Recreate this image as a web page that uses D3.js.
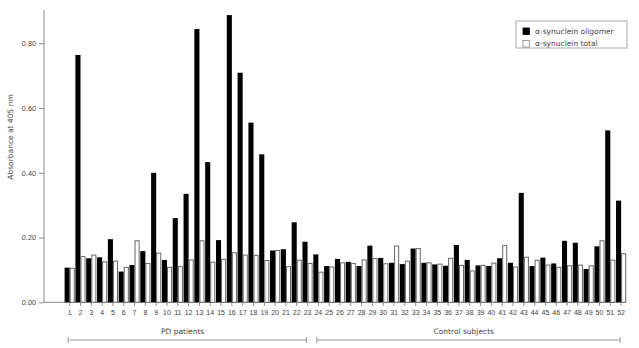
<!DOCTYPE html>
<html>
<head>
<meta charset="UTF-8">
<title></title>
<style>
  body{ margin:0; background:#fff; font-family:'DejaVu Sans', sans-serif; }
  text{ fill:#444; }
  .axis path, .axis line{ stroke:#888; }
</style>
</head>
<body>
<script src="https://cdnjs.cloudflare.com/ajax/libs/d3/7.8.5/d3.min.js"></script>
<script>
// params / data
var subjects = d3.range(1, 53);
var oligomer = [0.107,0.764,0.136,0.139,0.195,0.095,0.115,0.158,0.40,0.131,
                0.26,0.335,0.844,0.433,0.192,0.887,0.709,0.555,0.457,0.16,
                0.164,0.247,0.187,0.148,0.112,0.134,0.125,0.112,0.175,0.137,
                0.122,0.118,0.166,0.122,0.117,0.113,0.177,0.131,0.114,0.112,
                0.136,0.122,0.338,0.112,0.138,0.12,0.19,0.184,0.103,0.173,
                0.531,0.314];
var total = [0.105,0.141,0.146,0.125,0.127,0.108,0.19,0.12,0.152,0.108,
             0.11,0.131,0.19,0.124,0.133,0.153,0.146,0.145,0.129,0.16,
             0.11,0.13,0.12,0.093,0.109,0.122,0.12,0.131,0.135,0.119,
             0.174,0.127,0.166,0.122,0.118,0.136,0.114,0.097,0.114,0.121,
             0.175,0.109,0.139,0.13,0.115,0.108,0.113,0.115,0.113,0.19,
             0.13,0.15];
var yTicks = [0, 0.2, 0.4, 0.6, 0.8];
var seriesNames = ["\u03b1-synuclein oligomer", "\u03b1-synuclein total"];
var groups = [
  {label: "PD patients", from: 1, to: 23},
  {label: "Control subjects", from: 24, to: 52}
];

var width = 639, height = 348;
var svg = d3.select("body").append("svg")
    .attr("width", width)
    .attr("height", height);

var x = d3.scaleBand().domain(subjects).range([64.6, 626.2]).paddingInner(0.06);
var xs = d3.scaleBand().domain([0, 1]).range([0, x.bandwidth()]);
var y = d3.scaleLinear().domain([0, 0.9]).range([302.3, 10.9]);

// y axis
var yAxis = svg.append("g")
    .attr("class", "axis")
    .attr("transform", "translate(44,0)")
    .call(d3.axisLeft(y).tickValues(yTicks).tickFormat(d3.format(".2f")).tickSize(5).tickSizeOuter(0).tickPadding(3));
yAxis.selectAll("text").style("font-size", "7.3px").style("fill", "#444");
yAxis.select(".domain").attr("d", "M0," + y(0) + "V10");

svg.append("text")
    .attr("transform", "translate(10,137) rotate(-90)")
    .attr("text-anchor", "middle")
    .attr("dominant-baseline", "central")
    .style("font-size", "7.5px")
    .text("Absorbance at 405 nm");

// baseline
svg.append("line")
    .attr("x1", 44).attr("x2", 626)
    .attr("y1", y(0)).attr("y2", y(0))
    .attr("stroke", "#888");

// bars
var cats = svg.append("g").selectAll("g")
    .data(subjects)
    .enter().append("g")
    .attr("transform", function(d) { return "translate(" + x(d) + ",0)"; });

cats.append("rect")
    .attr("x", xs(0))
    .attr("width", xs.bandwidth())
    .attr("y", function(d, i) { return y(oligomer[i]); })
    .attr("height", function(d, i) { return y(0) - y(oligomer[i]); })
    .attr("fill", "#000");

cats.append("rect")
    .attr("x", xs(1) + 0.5)
    .attr("width", xs.bandwidth() - 1)
    .attr("y", function(d, i) { return y(total[i]); })
    .attr("height", function(d, i) { return y(0) - y(total[i]); })
    .attr("fill", "#fff")
    .attr("stroke", "#666")
    .attr("stroke-width", 1);

// x ticks + labels
var xAxis = svg.append("g")
    .attr("class", "axis")
    .attr("transform", "translate(0," + y(0) + ")")
    .call(d3.axisBottom(x).tickSize(3.5).tickSizeOuter(0).tickPadding(4));
xAxis.select(".domain").remove();
xAxis.selectAll("text").style("font-size", "7px").style("fill", "#444");

// group brackets
var gb = svg.append("g").selectAll("g").data(groups).enter().append("g");
gb.append("line")
    .attr("x1", function(d) { return x(d.from) + x.bandwidth() / 2 - 1.5; })
    .attr("x2", function(d) { return x(d.to) + x.bandwidth() / 2 - 1; })
    .attr("y1", 340).attr("y2", 340)
    .attr("stroke", "#999");
gb.append("line")
    .attr("x1", function(d) { return x(d.from) + x.bandwidth() / 2 - 1.5; })
    .attr("x2", function(d) { return x(d.from) + x.bandwidth() / 2 - 1.5; })
    .attr("y1", 337).attr("y2", 343).attr("stroke", "#999");
gb.append("line")
    .attr("x1", function(d) { return x(d.to) + x.bandwidth() / 2 - 1; })
    .attr("x2", function(d) { return x(d.to) + x.bandwidth() / 2 - 1; })
    .attr("y1", 337).attr("y2", 343).attr("stroke", "#999");
gb.append("text")
    .attr("x", function(d) { return (x(d.from) + x(d.to) + x.bandwidth()) / 2 - 6; })
    .attr("y", 331)
    .attr("text-anchor", "middle")
    .attr("dominant-baseline", "central")
    .style("font-size", "7.5px")
    .text(function(d) { return d.label; });

// legend
var legend = svg.append("g").attr("transform", "translate(516,21)");
legend.append("rect")
    .attr("width", 111).attr("height", 27)
    .attr("fill", "#fff").attr("stroke", "#aaa");
var li = legend.selectAll("g.item").data(seriesNames).enter().append("g")
    .attr("class", "item")
    .attr("transform", function(d, i) { return "translate(7," + (7 + i * 12.5) + ")"; });
li.append("rect")
    .attr("width", 6.5).attr("height", 6.5)
    .attr("fill", function(d, i) { return i === 0 ? "#000" : "#fff"; })
    .attr("stroke", function(d, i) { return i === 0 ? "#000" : "#888"; })
    .attr("stroke-width", 0.8);
li.append("text")
    .attr("x", 12)
    .attr("y", 3.3)
    .attr("dominant-baseline", "central")
    .style("font-size", "7.5px")
    .text(function(d) { return d; });
</script>
</body>
</html>
